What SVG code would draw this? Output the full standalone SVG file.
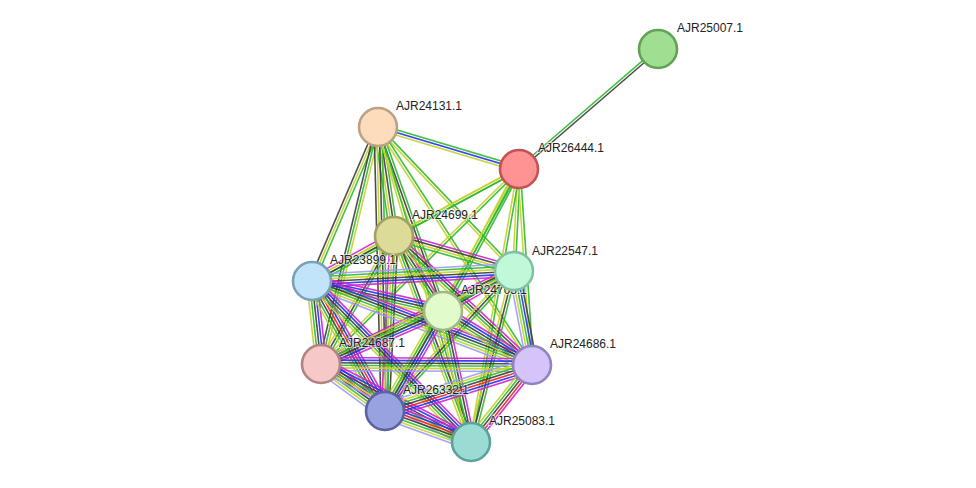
<svg xmlns="http://www.w3.org/2000/svg" width="976" height="488" viewBox="0 0 976 488">
<style>
#edges path{fill:none;stroke-width:1.6;stroke-opacity:0.9}
.g{stroke:#2db82d}.y{stroke:#c3d22a}.k{stroke:#3a3a3a}.m{stroke:#d020d0}.b{stroke:#2030f0}.r{stroke:#f02020}.p{stroke:#9a9af8}
.n circle{stroke-width:2.6}
.n text{font-family:"Liberation Sans",Arial,sans-serif;font-size:12px;fill:#222;stroke:#fff;stroke-width:2;stroke-opacity:0.6;paint-order:stroke}
</style>
<rect width="976" height="488" fill="#fff"/>
<g id="edges">
<g transform="translate(519,169) rotate(-40.8)"><path class="g" d="M0-1.3H184"/><path class="k" d="M0 1.3H184"/></g>
<g transform="translate(378,127) rotate(16.6)"><path class="g" d="M0-2.6H147"/><path class="b" d="M0 0H147"/><path class="y" d="M0 2.6H147"/></g>
<g transform="translate(378,127) rotate(81.6)"><path class="g" d="M0-3.9H110"/><path class="k" d="M0-1.3H110"/><path class="y" d="M0 1.3H110"/><path class="g" d="M0 3.9H110"/></g>
<g transform="translate(378,127) rotate(46.4)"><path class="g" d="M0-1.3H197"/><path class="y" d="M0 1.3H197"/></g>
<g transform="translate(378,127) rotate(113.2)"><path class="g" d="M0-2.6H168"/><path class="y" d="M0 0H168"/><path class="k" d="M0 2.6H168"/></g>
<g transform="translate(378,127) rotate(70.5)"><path class="g" d="M0-2.6H195"/><path class="k" d="M0 0H195"/><path class="y" d="M0 2.6H195"/></g>
<g transform="translate(378,127) rotate(103.5)"><path class="y" d="M0-2.6H244"/><path class="g" d="M0 0H244"/><path class="k" d="M0 2.6H244"/></g>
<g transform="translate(378,127) rotate(57.1)"><path class="g" d="M0-1.3H284"/><path class="y" d="M0 1.3H284"/></g>
<g transform="translate(378,127) rotate(88.6)"><path class="g" d="M0-3.9H284"/><path class="k" d="M0-1.3H284"/><path class="y" d="M0 1.3H284"/><path class="k" d="M0 3.9H284"/></g>
<g transform="translate(378,127) rotate(73.6)"><path class="g" d="M0-1.3H328"/><path class="y" d="M0 1.3H328"/></g>
<g transform="translate(519,169) rotate(151.8)"><path class="g" d="M0-1.3H142"/><path class="y" d="M0 1.3H142"/></g>
<g transform="translate(519,169) rotate(92.8)"><path class="g" d="M0-1.3H101"/><path class="y" d="M0 1.3H101"/></g>
<g transform="translate(519,169) rotate(151.6)"><path class="g" d="M0-1.3H235"/><path class="y" d="M0 1.3H235"/></g>
<g transform="translate(519,169) rotate(118.2)"><path class="g" d="M0-2.6H161"/><path class="g" d="M0 0H161"/><path class="y" d="M0 2.6H161"/></g>
<g transform="translate(519,169) rotate(135.4)"><path class="g" d="M0-1.3H278"/><path class="y" d="M0 1.3H278"/></g>
<g transform="translate(519,169) rotate(86.2)"><path class="g" d="M0-1.3H196"/><path class="y" d="M0 1.3H196"/></g>
<g transform="translate(519,169) rotate(119.0)"><path class="g" d="M0-1.3H277"/><path class="y" d="M0 1.3H277"/></g>
<g transform="translate(519,169) rotate(100.0)"><path class="g" d="M0-1.3H277"/><path class="y" d="M0 1.3H277"/></g>
<g transform="translate(394,236) rotate(15.8)"><path class="m" d="M0-3.9H125"/><path class="k" d="M0-1.3H125"/><path class="y" d="M0 1.3H125"/><path class="g" d="M0 3.9H125"/></g>
<g transform="translate(394,236) rotate(151.2)"><path class="g" d="M0-3.9H94"/><path class="k" d="M0-1.3H94"/><path class="y" d="M0 1.3H94"/><path class="m" d="M0 3.9H94"/></g>
<g transform="translate(394,236) rotate(56.8)"><path class="m" d="M0-3.9H90"/><path class="k" d="M0-1.3H90"/><path class="g" d="M0 1.3H90"/><path class="y" d="M0 3.9H90"/></g>
<g transform="translate(394,236) rotate(119.7)"><path class="g" d="M0-2.6H147"/><path class="k" d="M0 0H147"/><path class="y" d="M0 2.6H147"/></g>
<g transform="translate(394,236) rotate(43.1)"><path class="m" d="M0-3.9H189"/><path class="k" d="M0-1.3H189"/><path class="g" d="M0 1.3H189"/><path class="y" d="M0 3.9H189"/></g>
<g transform="translate(394,236) rotate(92.9)"><path class="k" d="M0-3.9H175"/><path class="g" d="M0-1.3H175"/><path class="y" d="M0 1.3H175"/><path class="m" d="M0 3.9H175"/></g>
<g transform="translate(394,236) rotate(69.5)"><path class="k" d="M0-2.6H220"/><path class="g" d="M0 0H220"/><path class="y" d="M0 2.6H220"/></g>
<g transform="translate(514,270) rotate(176.9)"><path class="m" d="M0-6.5H202"/><path class="b" d="M0-3.9H202"/><path class="k" d="M0-1.3H202"/><path class="y" d="M0 1.3H202"/><path class="g" d="M0 3.9H202"/><path class="p" d="M0 6.5H202"/></g>
<g transform="translate(514,270) rotate(150.0)"><path class="m" d="M0-3.9H82"/><path class="k" d="M0-1.3H82"/><path class="g" d="M0 1.3H82"/><path class="y" d="M0 3.9H82"/></g>
<g transform="translate(514,270) rotate(154.0)"><path class="g" d="M0-3.9H215"/><path class="y" d="M0-1.3H215"/><path class="k" d="M0 1.3H215"/><path class="m" d="M0 3.9H215"/></g>
<g transform="translate(514,270) rotate(79.3)"><path class="k" d="M0-5.2H97"/><path class="b" d="M0-2.6H97"/><path class="g" d="M0 0H97"/><path class="y" d="M0 2.6H97"/><path class="p" d="M0 5.2H97"/></g>
<g transform="translate(514,270) rotate(132.5)"><path class="g" d="M0-2.6H191"/><path class="k" d="M0 0H191"/><path class="y" d="M0 2.6H191"/></g>
<g transform="translate(514,270) rotate(104.0)"><path class="g" d="M0-2.6H177"/><path class="k" d="M0 0H177"/><path class="y" d="M0 2.6H177"/></g>
<g transform="translate(312,281) rotate(12.9)"><path class="m" d="M0-5.2H134"/><path class="b" d="M0-2.6H134"/><path class="k" d="M0 0H134"/><path class="g" d="M0 2.6H134"/><path class="y" d="M0 5.2H134"/></g>
<g transform="translate(312,281) rotate(83.8)"><path class="m" d="M0-5.2H84"/><path class="b" d="M0-2.6H84"/><path class="k" d="M0 0H84"/><path class="g" d="M0 2.6H84"/><path class="y" d="M0 5.2H84"/></g>
<g transform="translate(312,281) rotate(20.9)"><path class="m" d="M0-6.5H236"/><path class="b" d="M0-3.9H236"/><path class="k" d="M0-1.3H236"/><path class="g" d="M0 1.3H236"/><path class="y" d="M0 3.9H236"/><path class="p" d="M0 6.5H236"/></g>
<g transform="translate(312,281) rotate(60.7)"><path class="m" d="M0-6.5H149"/><path class="b" d="M0-3.9H149"/><path class="r" d="M0-1.3H149"/><path class="k" d="M0 1.3H149"/><path class="g" d="M0 3.9H149"/><path class="y" d="M0 6.5H149"/></g>
<g transform="translate(312,281) rotate(45.4)"><path class="m" d="M0-5.2H226"/><path class="b" d="M0-2.6H226"/><path class="k" d="M0 0H226"/><path class="g" d="M0 2.6H226"/><path class="y" d="M0 5.2H226"/></g>
<g transform="translate(443,311) rotate(156.5)"><path class="m" d="M0-5.2H133"/><path class="b" d="M0-2.6H133"/><path class="k" d="M0 0H133"/><path class="g" d="M0 2.6H133"/><path class="y" d="M0 5.2H133"/></g>
<g transform="translate(443,311) rotate(31.2)"><path class="m" d="M0-5.2H104"/><path class="b" d="M0-2.6H104"/><path class="k" d="M0 0H104"/><path class="g" d="M0 2.6H104"/><path class="y" d="M0 5.2H104"/></g>
<g transform="translate(443,311) rotate(120.1)"><path class="m" d="M0-5.2H116"/><path class="b" d="M0-2.6H116"/><path class="k" d="M0 0H116"/><path class="g" d="M0 2.6H116"/><path class="y" d="M0 5.2H116"/></g>
<g transform="translate(443,311) rotate(77.9)"><path class="m" d="M0-3.9H134"/><path class="k" d="M0-1.3H134"/><path class="g" d="M0 1.3H134"/><path class="y" d="M0 3.9H134"/></g>
<g transform="translate(321,364) rotate(0.3)"><path class="m" d="M0-6.5H211"/><path class="b" d="M0-3.9H211"/><path class="k" d="M0-1.3H211"/><path class="g" d="M0 1.3H211"/><path class="y" d="M0 3.9H211"/><path class="p" d="M0 6.5H211"/></g>
<g transform="translate(321,364) rotate(36.3)"><path class="m" d="M0-7.8H79"/><path class="b" d="M0-5.2H79"/><path class="r" d="M0-2.6H79"/><path class="k" d="M0 0H79"/><path class="g" d="M0 2.6H79"/><path class="y" d="M0 5.2H79"/><path class="p" d="M0 7.8H79"/></g>
<g transform="translate(321,364) rotate(27.5)"><path class="m" d="M0-6.5H169"/><path class="b" d="M0-3.9H169"/><path class="k" d="M0-1.3H169"/><path class="g" d="M0 1.3H169"/><path class="y" d="M0 3.9H169"/><path class="p" d="M0 6.5H169"/></g>
<g transform="translate(532,365) rotate(162.6)"><path class="m" d="M0-7.8H154"/><path class="b" d="M0-5.2H154"/><path class="r" d="M0-2.6H154"/><path class="k" d="M0 0H154"/><path class="g" d="M0 2.6H154"/><path class="y" d="M0 5.2H154"/><path class="p" d="M0 7.8H154"/></g>
<g transform="translate(532,365) rotate(128.4)"><path class="m" d="M0-5.2H98"/><path class="r" d="M0-2.6H98"/><path class="k" d="M0 0H98"/><path class="g" d="M0 2.6H98"/><path class="y" d="M0 5.2H98"/></g>
<g transform="translate(385,411) rotate(19.8)"><path class="m" d="M0-7.8H91"/><path class="b" d="M0-5.2H91"/><path class="r" d="M0-2.6H91"/><path class="k" d="M0 0H91"/><path class="g" d="M0 2.6H91"/><path class="y" d="M0 5.2H91"/><path class="p" d="M0 7.8H91"/></g>
</g>
<g id="node-AJR25007" class="n"><circle cx="658" cy="49" r="19" fill="#a0de92" stroke="#62a255"/><text x="677" y="32">AJR25007.1</text></g>
<g id="node-AJR24131" class="n"><circle cx="378" cy="127" r="19" fill="#fddcbc" stroke="#bca184"/><text x="396" y="110">AJR24131.1</text></g>
<g id="node-AJR26444" class="n"><circle cx="519" cy="169" r="19" fill="#ff9292" stroke="#c05454"/><text x="538" y="152">AJR26444.1</text></g>
<g id="node-AJR24699" class="n"><circle cx="394" cy="236" r="19" fill="#dcdc98" stroke="#a2a064"/><text x="412" y="219">AJR24699.1</text></g>
<g id="node-AJR23899" class="n"><circle cx="312" cy="281" r="19" fill="#c2e4fa" stroke="#7ca0b8"/><text x="330" y="264">AJR23899.1</text></g>
<g id="node-AJR24703" class="n"><circle cx="443" cy="311" r="19" fill="#e2fbca" stroke="#a0b884"/><text x="461" y="294">AJR24703.1</text></g>
<g id="node-AJR22547" class="n"><circle cx="514" cy="271" r="19" fill="#c2f8da" stroke="#82c2a2"/><text x="532" y="255">AJR22547.1</text></g>
<g id="node-AJR24687" class="n"><circle cx="321" cy="364" r="19" fill="#f6c8c8" stroke="#b08484"/><text x="339" y="347">AJR24687.1</text></g>
<g id="node-AJR24686" class="n"><circle cx="532" cy="365" r="19" fill="#d4c4fa" stroke="#9282c2"/><text x="550" y="348">AJR24686.1</text></g>
<g id="node-AJR26332" class="n"><circle cx="385" cy="411" r="19" fill="#98a2e0" stroke="#5a62a2"/><text x="403" y="394">AJR26332.1</text></g>
<g id="node-AJR25083" class="n"><circle cx="471" cy="442" r="19" fill="#9adcd4" stroke="#5aa29a"/><text x="489" y="425">AJR25083.1</text></g>
</svg>
